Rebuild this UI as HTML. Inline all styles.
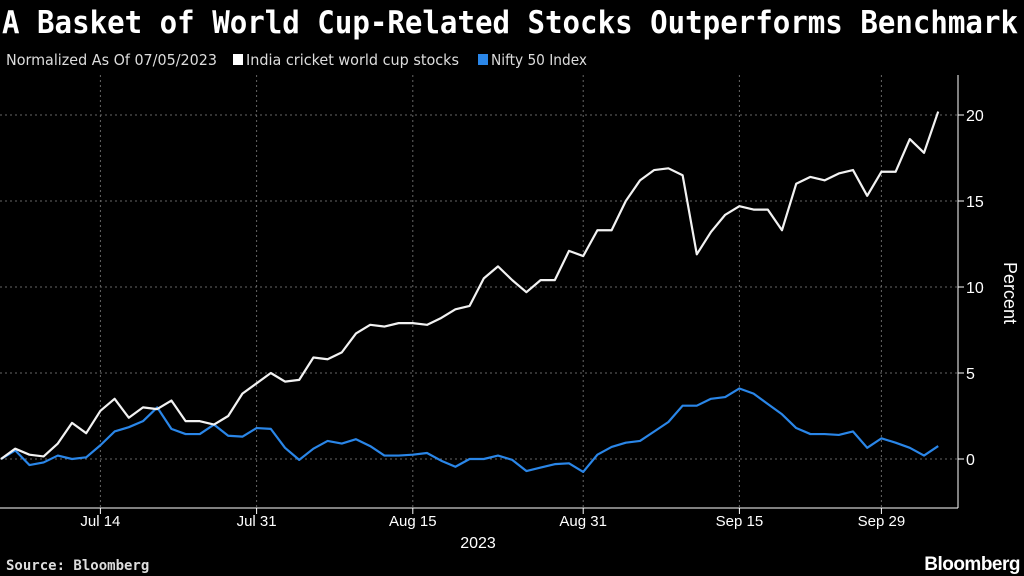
<!DOCTYPE html>
<html><head><meta charset="utf-8"><style>
body{margin:0;background:#000;width:1024px;height:576px;overflow:hidden;font-family:"Liberation Sans",sans-serif;color:#fff}
</style></head><body>
<svg id="c" width="1024" height="576" style="position:absolute;left:0;top:0"></svg>
<script>
const ns="http://www.w3.org/2000/svg";
const xLabels=["Jul 14","Jul 31","Aug 15","Aug 31","Sep 15","Sep 29"];
const xLabelIdx=[7,18,29,41,52,62];
const yTicks=[0,5,10,15,20];
const basket=[0,0.6,0.25,0.15,0.9,2.1,1.5,2.8,3.5,2.4,3.0,2.9,3.4,2.2,2.2,2.0,2.5,3.8,4.4,5.0,4.5,4.6,5.9,5.8,6.2,7.3,7.8,7.7,7.9,7.9,7.8,8.2,8.7,8.9,10.5,11.2,10.4,9.7,10.4,10.4,12.1,11.8,13.3,13.3,15.0,16.2,16.8,16.9,16.5,11.9,13.2,14.2,14.7,14.5,14.5,13.3,16.0,16.4,16.2,16.6,16.8,15.3,16.7,16.7,18.6,17.8,20.2];
const nifty=[0,0.5,-0.35,-0.2,0.2,0,0.1,0.8,1.6,1.85,2.2,3.0,1.75,1.45,1.45,2.0,1.35,1.3,1.8,1.75,0.65,-0.05,0.6,1.05,0.9,1.15,0.75,0.2,0.2,0.25,0.35,-0.1,-0.45,0,0,0.2,-0.05,-0.7,-0.5,-0.3,-0.25,-0.75,0.25,0.7,0.95,1.05,1.6,2.15,3.1,3.1,3.5,3.6,4.1,3.8,3.2,2.6,1.8,1.45,1.45,1.4,1.6,0.65,1.2,0.95,0.65,0.2,0.75];
const svg=document.getElementById('c');
const X=i=>i*14.2+1, Y=v=>459-v*17.2;
function el(t,a,txt){const e=document.createElementNS(ns,t);for(const k in a)e.setAttribute(k,a[k]);if(txt!=null)e.textContent=txt;svg.appendChild(e);return e;}
let t=el('text',{x:2,y:33,fill:'#fff','font-size':31,'font-weight':'bold','font-family':'DejaVu Sans Mono,Liberation Mono,monospace',textLength:1016,lengthAdjust:'spacingAndGlyphs'},'A Basket of World Cup-Related Stocks Outperforms Benchmark');

t=el('text',{x:6,y:65,fill:'#ddd','font-size':15,'font-family':'DejaVu Sans Condensed,Liberation Sans Narrow,sans-serif',textLength:211,lengthAdjust:'spacingAndGlyphs'},'Normalized As Of 07/05/2023');

let r=el('rect',{x:233,y:54,width:10,height:11,fill:'#fff'});
t=el('text',{x:246,y:65,fill:'#ddd','font-size':15,'font-family':'DejaVu Sans Condensed,sans-serif',textLength:213,lengthAdjust:'spacingAndGlyphs'},'India cricket world cup stocks');
r=el('rect',{x:478,y:54,width:10,height:11,fill:'#2a86e8'});
t=el('text',{x:491,y:65,fill:'#ddd','font-size':15,'font-family':'DejaVu Sans Condensed,sans-serif',textLength:96,lengthAdjust:'spacingAndGlyphs'},'Nifty 50 Index');
yTicks.forEach(v=>{
 let g=el('line',{x1:0,x2:958,y1:Y(v),y2:Y(v),stroke:'#666','stroke-dasharray':'2,3','stroke-width':1});
 
 el('line',{x1:958,x2:964,y1:Y(v),y2:Y(v),stroke:'#fff'});
 let l=el('text',{x:966,y:Y(v)+6,fill:'#fff','font-size':16},String(v));
 
});
xLabels.forEach((s,k)=>{
 const x=X(xLabelIdx[k]);
 let g=el('line',{x1:x,x2:x,y1:75,y2:508,stroke:'#666','stroke-dasharray':'2,3'});
 
 el('line',{x1:x,x2:x,y1:508,y2:514,stroke:'#fff'});
 let l=el('text',{x:x,y:526,fill:'#fff','font-size':15,'text-anchor':'middle'},s);
 
});
let a=el('line',{x1:958,x2:958,y1:75,y2:508,stroke:'#fff'});
a=el('line',{x1:0,x2:958,y1:508,y2:508,stroke:'#fff'});
t=el('text',{x:478,y:548,fill:'#fff','font-size':16,'text-anchor':'middle'},'2023');
t=el('text',{x:0,y:0,fill:'#fff','font-size':18,'text-anchor':'middle',transform:'translate(1004,293) rotate(90)'},'Percent');
function line(d,c,n){let p=el('polyline',{points:d.map((v,i)=>X(i)+','+Y(v)).join(' '),fill:'none',stroke:c,'stroke-width':2.2,'stroke-linejoin':'round'});}
line(nifty,'#2a86e8','nifty-line');
line(basket,'#f2f2f2','basket-line');
t=el('text',{x:6,y:570,fill:'#ddd','font-size':14,'font-weight':'bold','font-family':'DejaVu Sans Mono,monospace'},'Source: Bloomberg');
t=el('text',{x:1020,y:570,fill:'#fff','font-size':19,'font-weight':'bold','text-anchor':'end','letter-spacing':'-0.5'},'Bloomberg');
</script>
</body></html>
